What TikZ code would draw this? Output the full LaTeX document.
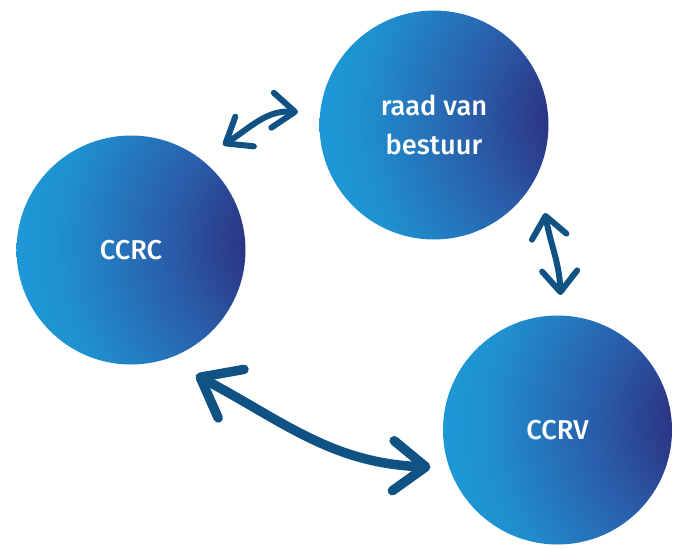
\documentclass[tikz,border=0pt]{standalone}
\usepackage{fontspec}
\setmainfont{Fira Sans}
\IfFontExistsTF{Fira Sans Medium}
  {\newfontfamily\ballfont{Fira Sans Medium}}
  {\newfontfamily\ballfont{Fira Sans SemiBold}}
\usetikzlibrary{arrows.meta}

\definecolor{ballnavy}{HTML}{2B2E7E}
\definecolor{ballmid}{HTML}{2A5CA8}
\definecolor{ballsky}{HTML}{1F90D0}
\definecolor{balllight}{HTML}{1AA5DE}
\definecolor{arrowblue}{HTML}{0F5283}

% big outer circle keeps the rings round the dark spot nearly concentric
\pgfdeclareradialshading{ballshade}{\pgfpoint{38bp}{2bp}}{%
  color(0bp)=(ballnavy); color(9bp)=(ballnavy); color(26bp)=(ballmid);
  color(48bp)=(ballsky); color(68bp)=(balllight); color(300bp)=(balllight)}

\tikzset{
  ball/.style={circle, minimum size=4.58cm, inner sep=0pt, shading=ballshade,
    text=white, align=center, font=\ballfont\fontsize{15.5}{22.5}\selectfont},
  twoway/.style={draw=arrowblue, line cap=round, line join=round}
}

\begin{document}
\begin{tikzpicture}
\useasboundingbox (0,0) rectangle (13.68,-10.96);
\node [ball] (ccrc) at (2.62,-5.0) {CCRC};
\node [ball] (raad) at (8.68,-2.5) {raad van\\bestuur};
\node [ball] (ccrv) at (11.15,-8.6) {CCRV};
\node [anchor=base east, inner sep=0pt, text=black!85, font=\fontsize{15.5}{18}\selectfont] (cut) at (0.05,-7.24) {d};
% loose ends of the arrows, next to the balls
\coordinate (a1) at ([shift={(1.3,-2.5)}]ccrc.center);
\coordinate (b1) at ([shift={(-2.54,-0.74)}]ccrv.center);
\coordinate (a2) at ([shift={(1.84,2.1)}]ccrc.center);
\coordinate (b2) at ([shift={(-2.72,0.26)}]raad.center);
\coordinate (a3) at ([shift={(2.22,-1.76)}]raad.center);
\coordinate (b3) at ([shift={(0.06,2.7)}]ccrv.center);
\draw [twoway, line width=0.19cm, arrows={Straight Barb[length=0.7cm,width=1.1cm,round]-Straight Barb[length=0.65cm,width=1.0cm,round]}] (a1) to[out=-28,in=178] (b1);
\draw [twoway, line width=0.12cm, arrows={Straight Barb[length=0.45cm,width=0.7cm,round]-Straight Barb[length=0.45cm,width=0.7cm,round]}] (a2) to[out=32,in=176] (b2);
\draw [twoway, line width=0.12cm, arrows={Straight Barb[length=0.42cm,width=0.7cm,round]-Straight Barb[length=0.42cm,width=0.7cm,round]}] (a3) to[out=-80,in=92] (b3);
\end{tikzpicture}
\end{document}
